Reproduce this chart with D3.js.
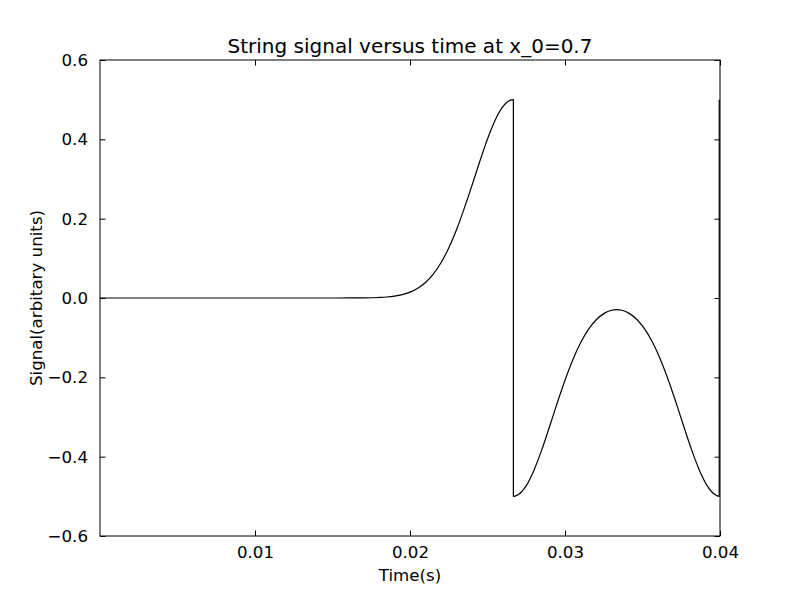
<!DOCTYPE html>
<html>
<head>
<meta charset="utf-8">
<script src="https://cdn.jsdelivr.net/npm/d3@7"></script>
<style>
  html, body { margin: 0; padding: 0; background: #fff; }
  svg { display: block; }
  text { font-family: "DejaVu Sans", sans-serif; fill: #000; }
</style>
</head>
<body>
<svg id="chart" width="800" height="596"></svg>
<script>
// ---- data ----
const titleText = "String signal versus time at x_0=0.7";
const xLabel = "Time(s)";
const yLabel = "Signal(arbitary units)";
const xTicks = [0.01, 0.02, 0.03, 0.04];
const xTickLabels = ["0.01", "0.02", "0.03", "0.04"];
const yTicks = [0.6, 0.4, 0.2, 0.0, -0.2, -0.4, -0.6];
const yTickLabels = ["0.6", "0.4", "0.2", "0.0", "\u22120.2", "\u22120.4", "\u22120.6"];

const times = [
  0.0000, 0.0050, 0.0100, 0.0150, 0.0160, 0.0170, 0.0180, 0.0185, 0.0190, 0.0195,
  0.0200, 0.0205, 0.0210, 0.0215, 0.0220, 0.0225, 0.0230, 0.0235, 0.0240, 0.0245,
  0.0250, 0.0255, 0.0260, 0.0265, 0.02667,
  0.02667, 0.0270, 0.0275, 0.0280, 0.0285, 0.0290, 0.0295, 0.0300, 0.0305, 0.0310,
  0.0315, 0.0320, 0.0325, 0.0330, 0.03333, 0.03367, 0.03417, 0.03467, 0.03517, 0.03567,
  0.03617, 0.03667, 0.03717, 0.03767, 0.03817, 0.03867, 0.03917, 0.03967, 0.03995,
  0.03995
];
const signal = [
  0.0000, 0.0000, 0.0000, 0.0000, 0.0001, 0.0003, 0.0013, 0.0025, 0.0047, 0.0085,
  0.0147, 0.0245, 0.0391, 0.0601, 0.0888, 0.1260, 0.1720, 0.2260, 0.2840, 0.3440,
  0.4010, 0.4490, 0.4830, 0.4990, 0.5000,
  -0.5000, -0.4956, -0.4730, -0.4340, -0.3830, -0.3246, -0.2645, -0.2073, -0.1562, -0.1135,
  -0.0799, -0.0554, -0.0394, -0.0309, -0.0294, -0.0309, -0.0394, -0.0554, -0.0799, -0.1135,
  -0.1562, -0.2073, -0.2645, -0.3246, -0.3830, -0.4340, -0.4730, -0.4956, -0.5000,
  0.5000
];

// ---- layout ----
const svg = d3.select("#chart");
const L = 100, R = 720, T = 60, B = 536;
const x = d3.scaleLinear().domain([0, 0.04]).range([L, R]);
const y = d3.scaleLinear().domain([-0.6, 0.6]).range([B, T]);
const tickLen = 5.5;
const fs = 16.67;

const pts = times.map((t, i) => [t, signal[i]]);

svg.append("defs").append("clipPath").attr("id", "clip")
  .append("rect").attr("x", L).attr("y", T).attr("width", R - L).attr("height", B - T);

const line = d3.line().x(d => x(d[0])).y(d => y(d[1])).curve(d3.curveMonotoneX);
svg.append("path")
  .datum(pts)
  .attr("clip-path", "url(#clip)")
  .attr("d", line)
  .attr("fill", "none")
  .attr("stroke", "#000")
  .attr("stroke-width", 1.2)
  .attr("stroke-linejoin", "round");

// axes (ticks inside, on all sides)
const axB = d3.axisBottom(x).tickValues(xTicks).tickFormat((d, i) => xTickLabels[i])
  .tickSizeInner(-tickLen).tickSizeOuter(0).tickPadding(10);
const axT = d3.axisTop(x).tickValues(xTicks).tickFormat("")
  .tickSizeInner(-tickLen).tickSizeOuter(0);
const axL = d3.axisLeft(y).tickValues(yTicks).tickFormat((d, i) => yTickLabels[i])
  .tickSizeInner(-tickLen).tickSizeOuter(0).tickPadding(12);
const axR = d3.axisRight(y).tickValues(yTicks).tickFormat("")
  .tickSizeInner(-tickLen).tickSizeOuter(0);

function style(g) {
  g.select(".domain").remove();
  g.selectAll(".tick line").attr("stroke", "#000").attr("stroke-width", 1);
  g.selectAll(".tick text").attr("font-size", fs).attr("font-family", "DejaVu Sans").attr("fill", "#000");
}
svg.append("g").attr("transform", `translate(0,${B})`).call(axB).call(style);
svg.append("g").attr("transform", `translate(0,${T})`).call(axT).call(style);
svg.append("g").attr("transform", `translate(${L},0)`).call(axL).call(style);
svg.append("g").attr("transform", `translate(${R},0)`).call(axR).call(style);

// frame
svg.append("rect").attr("x", L).attr("y", T).attr("width", R - L).attr("height", B - T)
  .attr("fill", "none").attr("stroke", "#000").attr("stroke-width", 1);

// title and labels
svg.append("text").attr("x", (L + R) / 2).attr("y", 53).attr("text-anchor", "middle")
  .attr("font-size", 20).text(titleText);
svg.append("text").attr("x", (L + R) / 2).attr("y", 581).attr("text-anchor", "middle")
  .attr("font-size", fs).text(xLabel);
svg.append("text").attr("transform", `translate(42,${(T + B) / 2}) rotate(-90)`)
  .attr("text-anchor", "middle").attr("font-size", fs).text(yLabel);
</script>
</body>
</html>
